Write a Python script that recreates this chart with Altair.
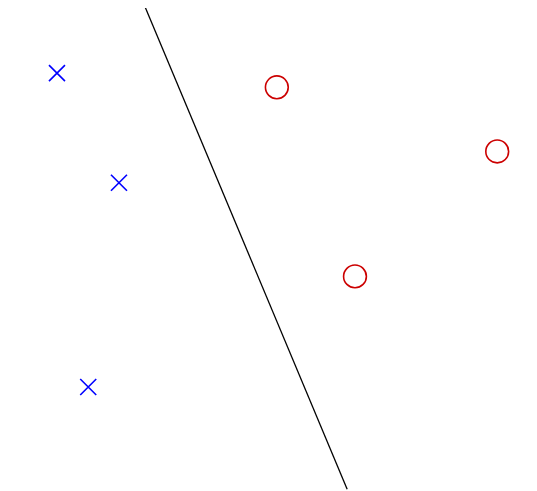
import altair as alt
import pandas as pd

# Class A (blue crosses)
a_x = [0.94, 2.13, 1.54]
a_y = [8.63, 6.32, 2.02]
# Class B (red circles)
b_x = [5.16, 9.39, 6.66]
b_y = [8.33, 6.98, 4.35]
# Separating line endpoints
line_x = [2.59, 6.51]
line_y = [10.13, -0.13]

xs = alt.Scale(domain=[0, 10], nice=False, zero=False)
ys = alt.Scale(domain=[0, 10], nice=False, zero=False)

dfa = pd.DataFrame({"x": a_x, "y": a_y})
dfb = pd.DataFrame({"x": b_x, "y": b_y})
dfl = pd.DataFrame({"x": line_x, "y": line_y})

noax = None

line = alt.Chart(dfl).mark_line(color="black", strokeWidth=1.3, clip=False).encode(
    x=alt.X("x:Q", scale=xs, axis=noax),
    y=alt.Y("y:Q", scale=ys, axis=noax),
)

crosses = alt.Chart(dfa).mark_point(
    shape="M-1,-1L1,1M-1,1L1,-1", size=256, color="#0000ff", strokeWidth=1.6, filled=False, opacity=1
).encode(x=alt.X("x:Q", scale=xs, axis=noax), y=alt.Y("y:Q", scale=ys, axis=noax))

circles = alt.Chart(dfb).mark_point(
    shape="circle", size=520, color="#cc0000", strokeWidth=1.6, filled=False, opacity=1
).encode(x=alt.X("x:Q", scale=xs, axis=noax), y=alt.Y("y:Q", scale=ys, axis=noax))

chart = alt.layer(line, crosses, circles).properties(
    width=521, height=475,
    autosize=alt.AutoSizeParams(type="none"),
    padding={"left": 0, "top": 0, "right": 0, "bottom": 8},
).configure_view(stroke=None)

chart.save("out.html", embed_options={"renderer": "svg", "actions": False})
